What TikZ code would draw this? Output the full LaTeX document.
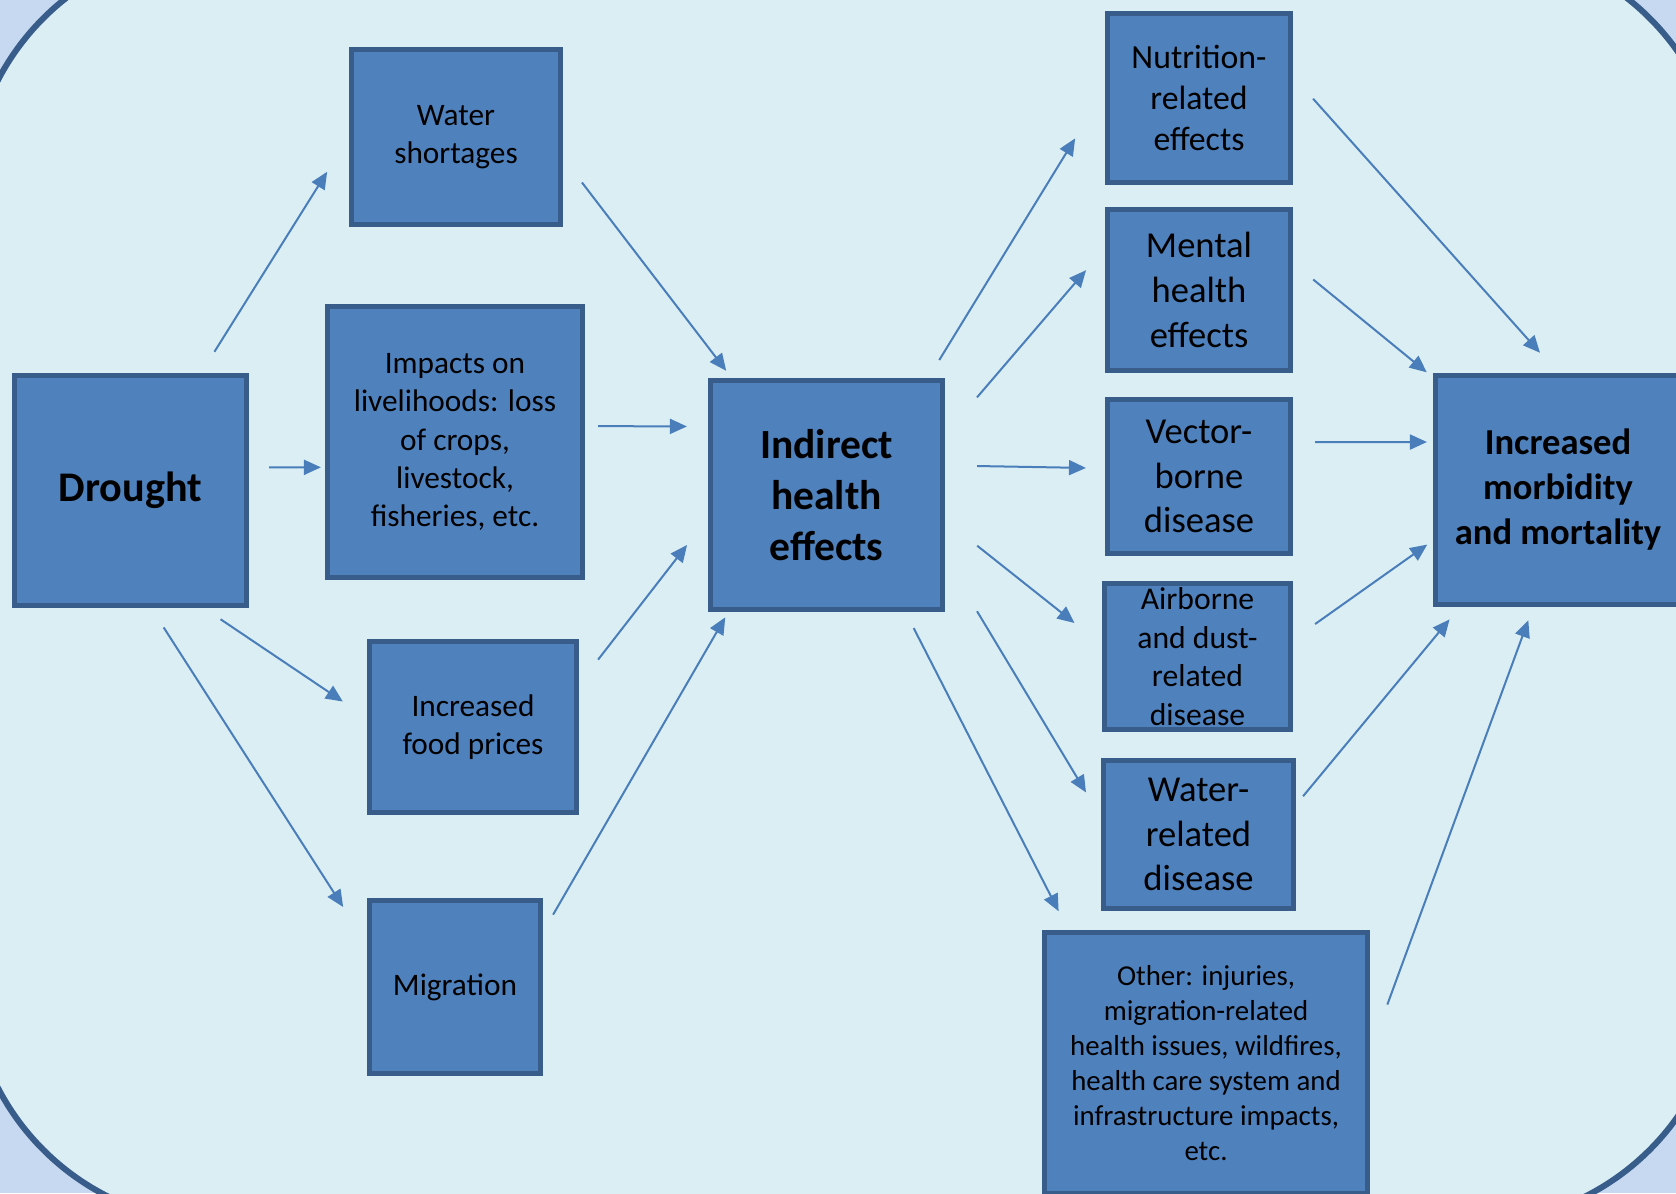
\documentclass[tikz,border=0pt]{standalone}
\usepackage{fontspec}
\setmainfont{Carlito}
\usetikzlibrary{arrows.meta}
\definecolor{boxfill}{HTML}{4F81BD}
\definecolor{boxline}{HTML}{385D8A}
\definecolor{arrowblue}{HTML}{4A7EBB}
\definecolor{panel}{HTML}{DBEEF4}
\definecolor{outside}{HTML}{C6D9F1}
\begin{document}
\begin{tikzpicture}[x=0.01cm, y=-0.01cm,
    box/.style={draw=boxline, fill=boxfill, line width=0.05cm, align=center, inner sep=0pt,
                font=\fontsize{8.9}{10.9}\selectfont},
    midtext/.style={font=\fontsize{10.4}{12.7}\selectfont},
    headtext/.style={font=\fontsize{11.8}{14.5}\selectfont\bfseries},
    arr/.style={draw=arrowblue, line width=0.02cm, -{Triangle[length=0.17cm, width=0.15cm]}}]
    \useasboundingbox (0,0) rectangle (1676,1193);
    \clip (0,0) rectangle (1676,1193);
    \fill[outside] (0,0) rectangle (1676,1193);
    \draw[draw=boxline, fill=panel, line width=0.06cm, rounded corners=2.5cm] (-30,-55) rectangle (1723,1223);

    \node[box, headtext, font=\fontsize{12}{14.6}\selectfont\bfseries, minimum width=2.32cm, minimum height=2.30cm] (drought) at (130.5,490.5) {Drought};

    \node[box, minimum width=2.09cm, minimum height=1.75cm] (water) at (456,137) {Water\\shortages};
    \node[box, minimum width=2.55cm, minimum height=2.71cm] (liveli) at (455,442) {Impacts on\\livelihoods: loss\\of crops,\\livestock,\\fisheries, etc.};
    \node[box, minimum width=2.07cm, minimum height=1.71cm] (food) at (473,727) {Increased\\food prices};
    \node[box, minimum width=1.71cm, minimum height=1.72cm] (migr) at (455,987) {Migration};

    \node[box, headtext, minimum width=2.32cm, minimum height=2.29cm] (indirect) at (826.5,495) {Indirect\\health\\effects};

    \node[box, font=\fontsize{9.6}{11.7}\selectfont, minimum width=1.83cm, minimum height=1.69cm] (nutri) at (1199,98) {Nutrition-\\related\\effects};
    \node[box, midtext, minimum width=1.83cm, minimum height=1.61cm] (mental) at (1199,290) {Mental\\health\\effects};
    \node[box, midtext, minimum width=1.83cm, minimum height=1.54cm] (vector) at (1199,476.5) {Vector-\\borne\\disease};
    \node[box, font=\fontsize{9}{10.95}\selectfont, minimum width=1.86cm, minimum height=1.46cm] (air) at (1197.5,656.5) {Airborne\\and dust-\\related\\disease};
    \node[box, midtext, minimum width=1.90cm, minimum height=1.48cm] (waterrel) at (1198.5,834.5) {Water-\\related\\disease};
    \node[box, font=\fontsize{8.2}{10}\selectfont, minimum width=3.23cm, minimum height=2.61cm] (other) at (1206,1063) {Other: injuries,\\migration-related\\health issues, wildfires,\\health care system and\\infrastructure impacts,\\etc.};

    \node[box, font=\fontsize{10.4}{12.8}\selectfont\bfseries, minimum width=2.45cm, minimum height=2.29cm] (morb) at (1558,490) {Increased\\morbidity\\and mortality};

    \draw[arr, shorten <=0.25cm, shorten >=0.41cm] (drought.59) -- (water.180);
    \draw[arr, shorten <=0.20cm, shorten >=0.04cm] (drought.11) -- (liveli.191);
    \draw[arr, shorten <=0.20cm, shorten >=0.29cm] (drought.-58) -- (food.175);
    \draw[arr, shorten <=0.23cm, shorten >=0.44cm] (drought.-80) -- (migr.154);

    \draw[arr, shorten <=0.31cm, shorten >=0.09cm] (water.-11) -- (indirect.129);
    \draw[arr, shorten <=0.13cm, shorten >=0.21cm] (liveli.7) -- (indirect.150);
    \draw[arr, shorten <=0.31cm, shorten >=0.34cm] (food.22) -- (indirect.191);
    \draw[arr, shorten <=0.20cm, shorten >=0.06cm] (migr.32) -- (indirect.-130);

    \draw[arr, shorten <=0.21cm, shorten >=0.57cm] (indirect.49) -- (nutri.175);
    \draw[arr, shorten <=0.49cm, shorten >=0.29cm] (indirect.27) -- (mental.156);
    \draw[arr, shorten <=0.32cm, shorten >=0.19cm] (indirect.14) -- (vector.175);
    \draw[arr, shorten <=0.41cm, shorten >=0.35cm] (indirect.-12) -- (air.173);
    \draw[arr, shorten <=0.62cm, shorten >=0.29cm] (indirect.-28) -- (waterrel.170);
    \draw[arr, shorten <=0.18cm, shorten >=0.21cm] (indirect.-56) -- (other.136);

    \draw[arr, shorten <=0.30cm, shorten >=0.27cm] (nutri.13) -- (morb.90);
    \draw[arr, shorten <=0.26cm, shorten >=0.08cm] (mental.16) -- (morb.138);
    \draw[arr, shorten <=0.22cm, shorten >=0.06cm] (vector.20) -- (morb.159);
    \draw[arr, shorten <=0.27cm, shorten >=0.07cm] (air.10) -- (morb.-158);
    \draw[arr, shorten <=0.11cm, shorten >=0.16cm] (waterrel.17) -- (morb.-130);
    \draw[arr, shorten <=0.50cm, shorten >=0.14cm] (other.4) -- (morb.-102);
\end{tikzpicture}
\end{document}
